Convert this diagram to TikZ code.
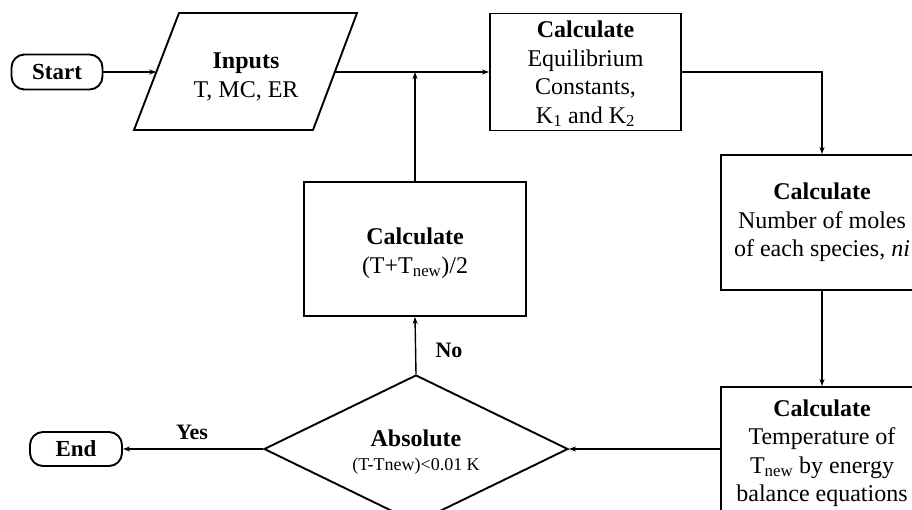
\documentclass[tikz,border=0pt]{standalone}
\usepackage{fontspec}
\setmainfont{Liberation Serif}
\usetikzlibrary{shapes.geometric,arrows.meta}
\begin{document}
\begin{tikzpicture}[x=1pt,y=-1pt,
  box/.style={draw,line width=1.9pt,align=center,font=\fontsize{24}{28.5}\selectfont,inner sep=0pt},
  term/.style={draw,line width=1.9pt,rounded corners=13pt,font=\fontsize{23}{28}\selectfont\bfseries,inner sep=0pt},
  txt/.style={align=center,font=\fontsize{24}{28.5}\selectfont,inner sep=0pt},
  conn/.style={line width=1.4pt,-{Stealth[length=7pt,width=5pt]}},
  lbl/.style={font=\fontsize{22}{26}\selectfont\bfseries,inner sep=0pt}]
\useasboundingbox (0,0) rectangle (912,509);
\clip (0,0) rectangle (912,509);
\fill[white] (0,0) rectangle (912,509);
% terminals
\node[term,minimum width=91pt,minimum height=35pt] (start) at (57,72) {Start};
\node[term,minimum width=92pt,minimum height=34pt] (end) at (76,449) {End};
% input parallelogram
\draw[line width=1.9pt] (179,13) -- (357,13) -- (313,130) -- (134,130) -- cycle;
\node[txt] (inp) at (246,77) {\textbf{Inputs}\\T, MC, ER};
\coordinate (inpL) at (156.3,72);
\coordinate (inpR) at (334.8,72);
\coordinate (jn) at (415,72);
% boxes
\node[box,minimum width=191pt,minimum height=117pt] (box1) at (585.5,72) {};
\node[txt] (t1) at (585.5,74)
  {\textbf{Calculate}\\Equilibrium\\Constants,\\K\textsubscript{1} and K\textsubscript{2}};
\node[box,minimum width=202pt,minimum height=135pt] (box2) at (822,222.5)
  {\textbf{Calculate}\\Number of moles\\of each species, \textit{ni}};
\node[draw,line width=1.9pt,minimum width=202pt,minimum height=140pt] (box3) at (822,457) {};
\node[txt] (t3) at (822,453)
  {\textbf{Calculate}\\Temperature of\\T\textsubscript{new} by energy\\balance equations};
\node[box,minimum width=222pt,minimum height=134pt] (calc) at (415,249) {};
\node[txt] (tc) at (415,253) {\textbf{Calculate}\\(T+T\textsubscript{new})/2};
% decision
\node[diamond,draw,line width=1.9pt,minimum width=304pt,minimum height=148pt,inner sep=0pt] (dia) at (416,449) {};
\node[txt] (td) at (416,452) {\textbf{Absolute}\\[-4pt]{\fontsize{18}{20}\selectfont (T-Tnew)<0.01 K}};
% connectors
\draw[conn] (start.east) -- (inpL);
\draw[conn] (inpR) -- (box1.west);
\draw[conn] (calc.north) -- (jn);
\draw[conn] (box1.east) -| (box2.north);
\draw[conn] (box2.south) -- (box3.north);
\draw[conn] (dia.east -| box3.west) -- (dia.east);
\draw[conn] (dia.north) -- (calc.south);
\draw[conn] (dia.west) -- (end.east);
% labels
\node[lbl] (no) at (449,350) {No};
\node[lbl] (yes) at (192,432) {Yes};
\end{tikzpicture}
\end{document}
